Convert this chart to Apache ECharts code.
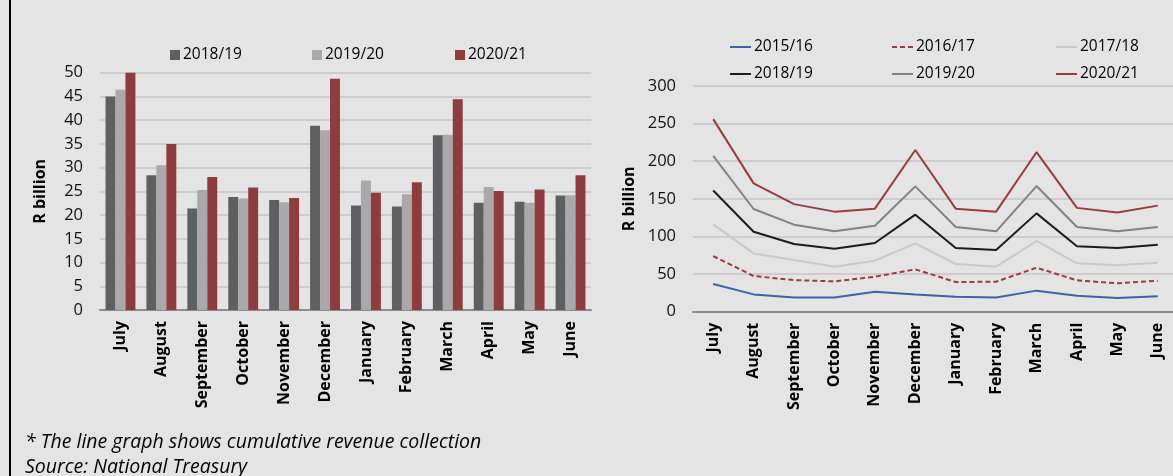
<!DOCTYPE html>
<html>
<head>
<meta charset="utf-8">
<script src="https://cdn.jsdelivr.net/npm/echarts@6/dist/echarts.min.js"></script>
<style>
  html, body { margin: 0; padding: 0; overflow: hidden; background: #e4e4e4; }
  #chart { width: 1180px; height: 476px; }
</style>
</head>
<body>
<div id="chart"></div>
<script>
// months of the fiscal year
var months = ['July', 'August', 'September', 'October', 'November', 'December', 'January', 'February', 'March', 'April', 'May', 'June']

// monthly revenue, R billion (bars)
var bar1819 = [45.0, 28.4, 21.4, 23.8, 23.2, 38.8, 22.0, 21.8, 36.8, 22.6, 22.8, 24.1]
var bar1920 = [46.4, 30.5, 25.3, 23.5, 22.7, 37.9, 27.3, 24.4, 36.9, 25.9, 22.6, 24.2]
var bar2021 = [50.0, 35.0, 28.0, 25.8, 23.6, 48.7, 24.7, 26.9, 44.4, 25.1, 25.4, 28.4]

// cumulative revenue, R billion (lines)
var line1516 = [36.8, 23, 19, 19, 26.6, 23, 20, 19, 28, 21.3, 18.2, 20.4]
var line1617 = [74, 47.4, 42, 40.3, 46.5, 56.3, 39.4, 39.9, 58.5, 41.7, 37.7, 41.2]
var line1718 = [116, 77.5, 68.7, 59.8, 67.8, 90.8, 63.4, 59.8, 94, 64.3, 61.6, 65]
var line1819 = [161, 106.3, 90, 83.8, 91.3, 129, 84.6, 82, 130.7, 86.9, 84.6, 89]
var line1920 = [207, 136.5, 115.7, 107, 114.3, 166.6, 112.6, 106.8, 167, 112.6, 106.8, 112.6]
var line2021 = [256, 170.6, 143, 133, 137, 215, 137, 133, 212, 138, 132, 141]

var font = 'Open Sans'

var myChart = echarts.init(document.getElementById('chart'))

function catAxis(idx) {
  return {
    type: 'category',
    gridIndex: idx,
    data: months,
    axisTick: { show: false },
    axisLine: { lineStyle: { color: '#8c8c8c', width: 2 } },
    axisLabel: {
      rotate: 90,
      margin: 11,
      color: '#000',
      fontFamily: font,
      fontWeight: 'bold',
      fontSize: 16
    }
  }
}

function valAxis(idx, max, step, gap) {
  return {
    type: 'value',
    gridIndex: idx,
    min: 0,
    max: max,
    interval: step,
    name: 'R billion',
    nameLocation: 'middle',
    nameGap: gap,
    nameTextStyle: { color: '#000', fontFamily: font, fontWeight: 'bold', fontSize: 16 },
    axisLine: { show: false },
    axisTick: { show: false },
    axisLabel: { color: '#111', fontFamily: font, fontSize: 16.5, margin: 17 },
    splitLine: { lineStyle: { color: '#c6c6c6', width: 1.5 } }
  }
}

// one legend per item so each sits where it is in the picture
function legendItem(name, left, top, isLine) {
  return {
    data: [name],
    left: left,
    top: top,
    icon: isLine ? undefined : 'rect',
    itemWidth: isLine ? 21 : 10,
    itemHeight: isLine ? 14 : 10,
    itemGap: 4,
    itemStyle: isLine ? { opacity: 0 } : {},
    selectedMode: false,
    textStyle: { color: '#000', fontFamily: font, fontSize: 15.5, padding: [0, 0, 0, -2] }
  }
}

function lineSeries(name, data, color, dashed) {
  return {
    name: name,
    type: 'line',
    xAxisIndex: 1,
    yAxisIndex: 1,
    data: data,
    symbol: 'none',
    animation: false,
    lineStyle: { color: color, width: 2, type: dashed ? [5, 3] : 'solid' },
    itemStyle: { color: color }
  }
}

function barSeries(name, data, color) {
  return {
    name: name,
    type: 'bar',
    data: data,
    barGap: 0,
    barCategoryGap: '27%',
    animation: false,
    itemStyle: { color: color }
  }
}

var option = {
  backgroundColor: '#e4e4e4',
  grid: [
    { left: 100, top: 72.7, width: 491, height: 237.3 },
    { left: 693, top: 86, width: 485, height: 225.7 }
  ],
  xAxis: [catAxis(0), catAxis(1)],
  yAxis: [valAxis(0, 50, 5, 52), valAxis(1, 300, 50, 56)],
  legend: [
    legendItem('2018/19', 165, 42, false),
    legendItem('2019/20', 307, 42, false),
    legendItem('2020/21', 450, 42, false),
    legendItem('2015/16', 724, 34, true),
    legendItem('2016/17', 886, 34, true),
    legendItem('2017/18', 1050, 34, true),
    legendItem('2018/19 ', 724, 61, true),
    legendItem('2019/20 ', 886, 61, true),
    legendItem('2020/21 ', 1050, 61, true)
  ],
  series: [
    barSeries('2018/19', bar1819, '#5f5f61'),
    barSeries('2019/20', bar1920, '#a9a9ac'),
    barSeries('2020/21', bar2021, '#8f3c3f'),
    lineSeries('2015/16', line1516, '#3d63a6', false),
    lineSeries('2016/17', line1617, '#9a3b3c', true),
    lineSeries('2017/18', line1718, '#c9c9c9', false),
    lineSeries('2018/19 ', line1819, '#1c1c1c', false),
    lineSeries('2019/20 ', line1920, '#828282', false),
    lineSeries('2020/21 ', line2021, '#9a3b3c', false)
  ],
  graphic: [
    { type: 'rect', shape: { x: 9, y: 0, width: 2, height: 476 }, style: { fill: '#000' } },
    {
      type: 'text', left: 25, top: 432,
      style: { text: '* The line graph shows cumulative revenue collection', fill: '#000', font: 'italic 19.5px "Open Sans"' }
    },
    {
      type: 'text', left: 25, top: 457,
      style: { text: 'Source: National Treasury', fill: '#000', font: 'italic 19.5px "Open Sans"' }
    }
  ]
}

myChart.setOption(option)
</script>
</body>
</html>
